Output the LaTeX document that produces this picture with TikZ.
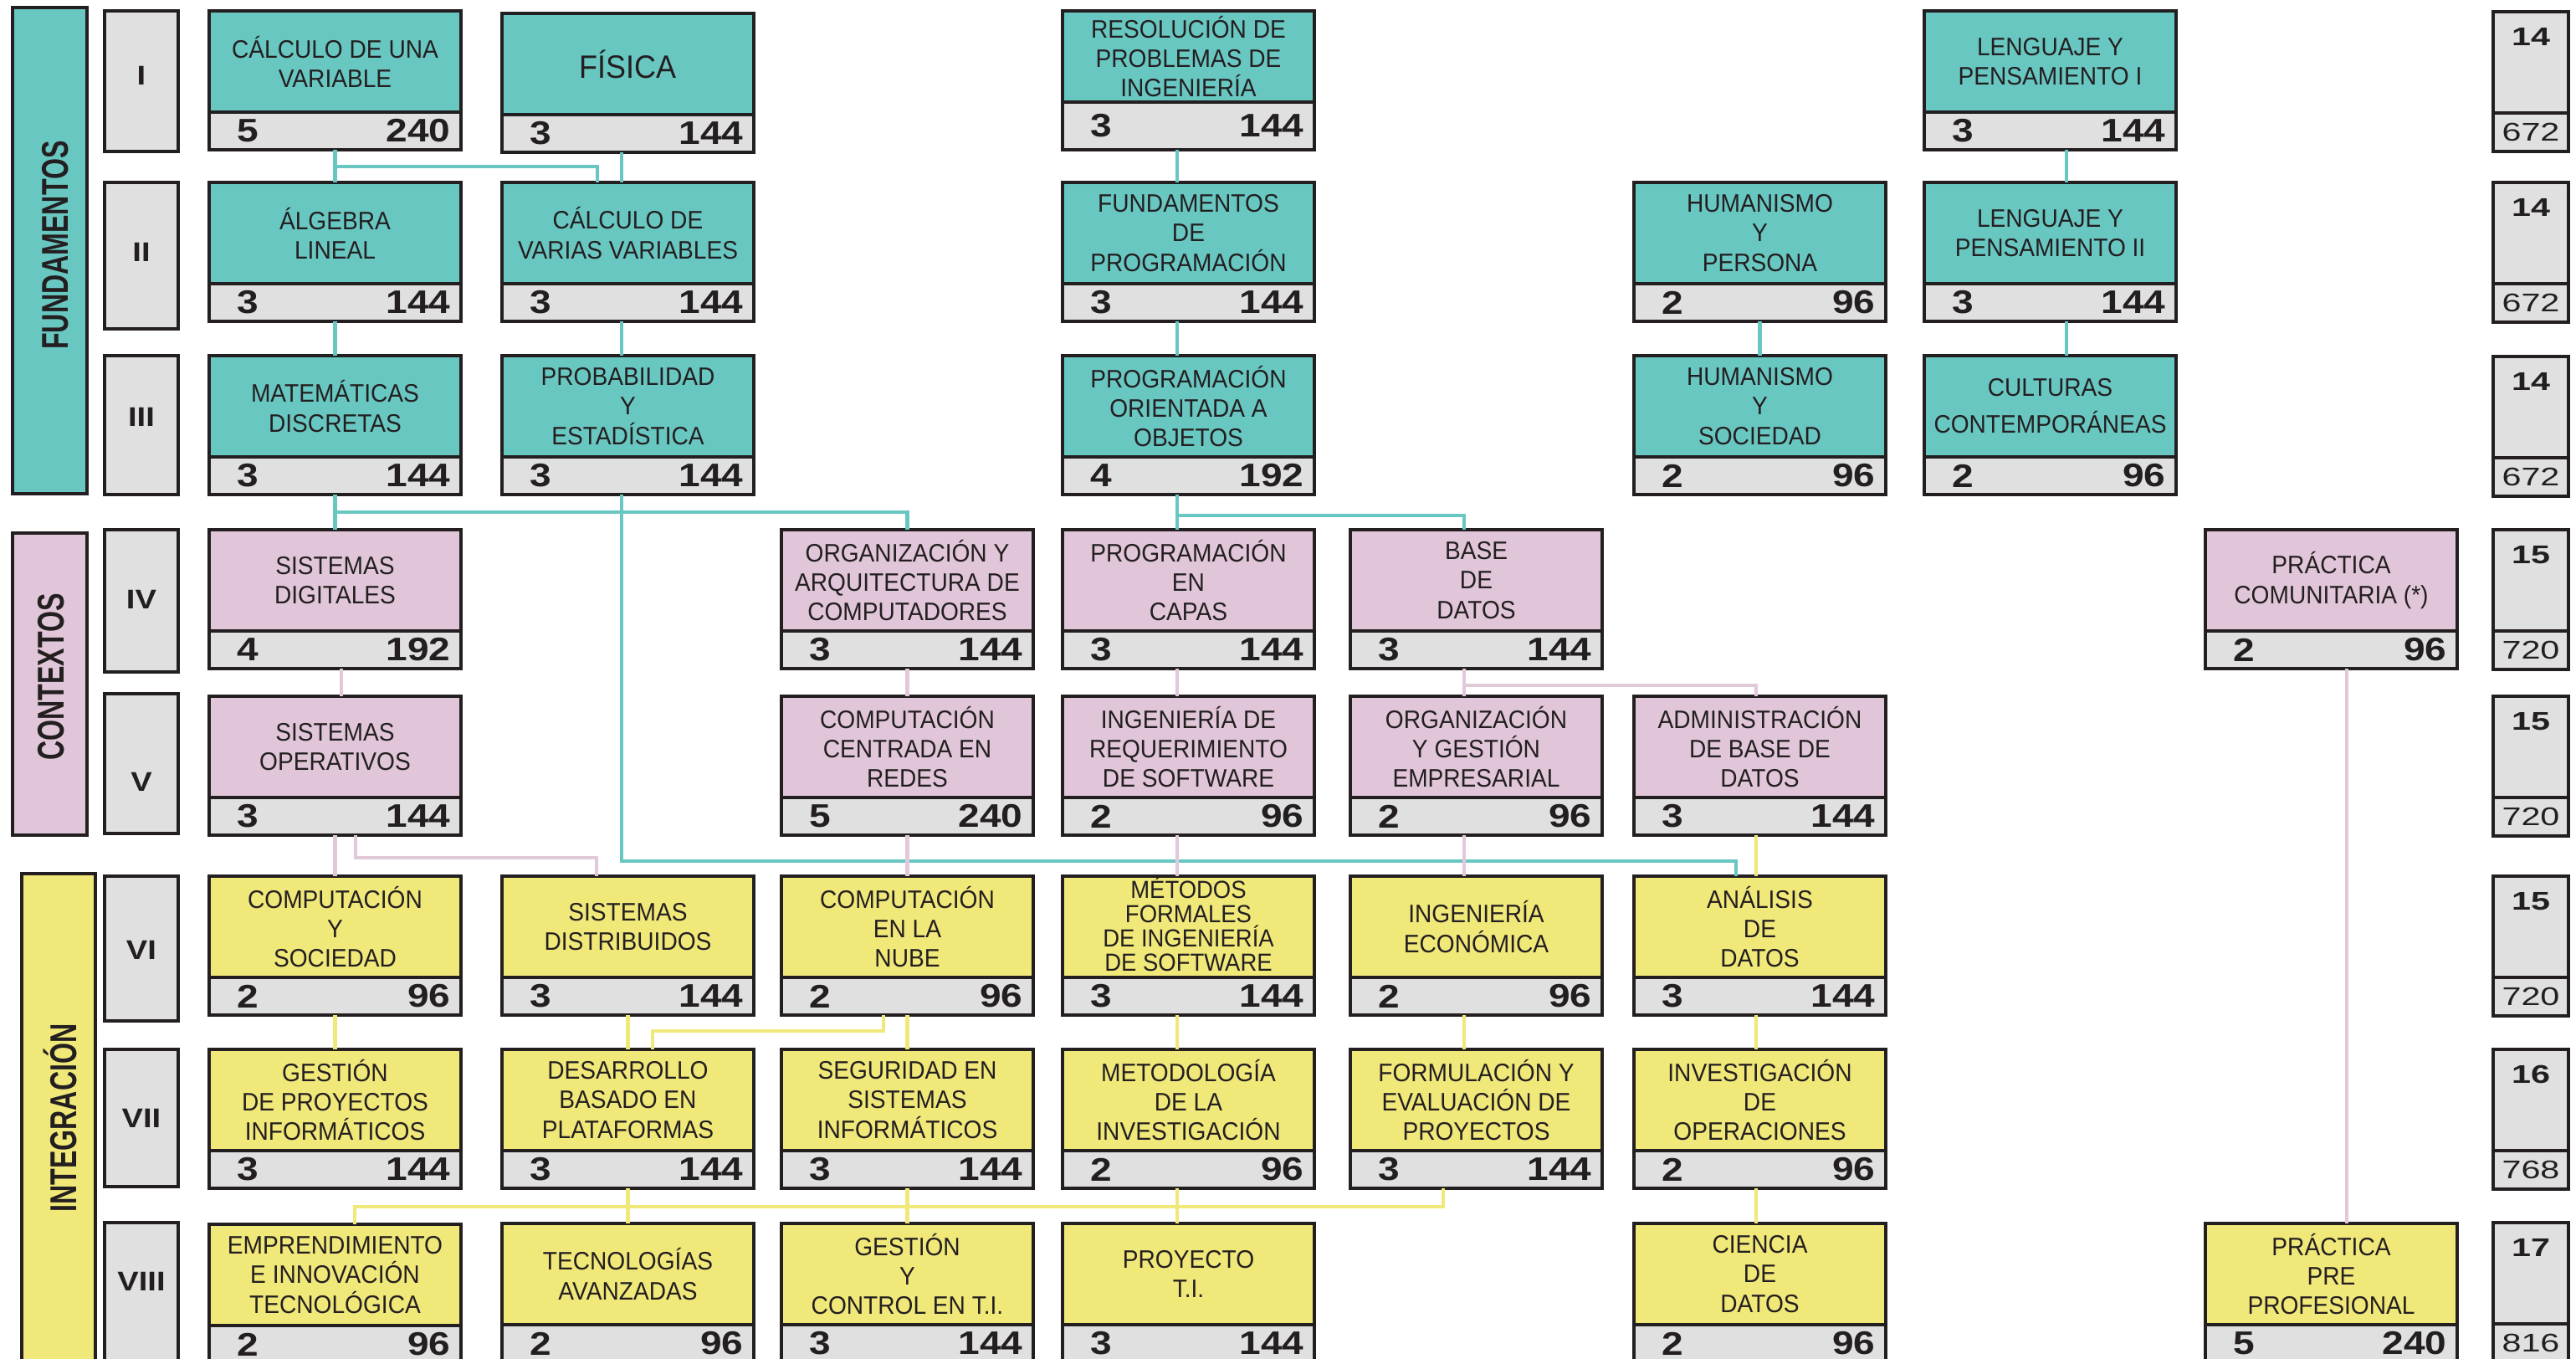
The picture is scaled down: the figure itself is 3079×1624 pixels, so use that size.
\documentclass[tikz,border=0pt]{standalone}
\usepackage{fontspec}
\setmainfont{Liberation Sans}
\newfontfamily\nombrefont{Liberation Sans}[FakeStretch=0.93]
\newfontfamily\cifrafont{Liberation Sans}[FakeStretch=1.18]
\newfontfamily\totalfont{Liberation Sans}[FakeStretch=1.35]
\newfontfamily\areafont{Liberation Sans}[FakeStretch=0.72]

\definecolor{fund}{HTML}{69C7C2}
\definecolor{cont}{HTML}{E0C6D8}
\definecolor{integ}{HTML}{F1E87A}
\definecolor{banda}{HTML}{E0E0E0}
\definecolor{tinta}{HTML}{231F20}
\definecolor{lrosa}{HTML}{E2C9DA}

\tikzset{
  caja/.style={draw=tinta, line width=0.9pt, inner sep=0pt, outer sep=0pt,
    minimum width=30.1mm, minimum height=16.6mm, anchor=north west},
  borde/.style={draw=tinta, line width=0.9pt},
  nombre/.style={align=center, inner sep=0pt, text=tinta,
    font=\nombrefont\fontsize{8.6}{10}\selectfont},
  cifra/.style={inner sep=0pt, text=tinta, font=\cifrafont\bfseries\fontsize{11.1}{12}\selectfont},
  semcaja/.style={draw=tinta, fill=banda, line width=0.9pt, inner sep=0pt, outer sep=0pt,
    minimum width=8.8mm, anchor=north west},
  semnum/.style={text=tinta, inner sep=0pt, font=\cifrafont\bfseries\fontsize{9.2}{10}\selectfont},
  tot/.style={text=tinta, inner sep=0pt, font=\totalfont\fontsize{8.7}{10}\selectfont},
  area/.style={draw=tinta, line width=0.9pt, inner sep=0pt, outer sep=0pt, anchor=north west},
  arealab/.style={rotate=90, text=tinta, inner sep=0pt, font=\areafont\bfseries\fontsize{12.7}{14}\selectfont},
  lfund/.style={draw=fund, line width=1.4pt},
  lcont/.style={draw=lrosa, line width=1.4pt},
  linteg/.style={draw=integ, line width=1.4pt},
}

% #1 band height, #2 name, #3 x, #4 y, #5 colour, #6 text, #7 credits, #8 hours
\newcommand{\curso}[8][4.5]{%
  \node[caja, fill=#5] (#2) at (#3,#4) {};
  \draw[borde, fill=banda] (#2.south west) rectangle ([yshift=#1mm]#2.south east);
  \node[nombre] at ([yshift=-8.3mm+#1mm/2]#2.north) {#6};
  \node[cifra, anchor=west] at ([xshift=3.3mm, yshift=#1mm/2]#2.south west) {#7};
  \node[cifra, anchor=east] at ([xshift=-1.2mm, yshift=#1mm/2]#2.south east) {#8};
}
% name, top, height, numeral, numeral y
\newcommand{\semestre}[5]{%
  \node[semcaja, minimum height=#3mm] (#1) at (125,#2) {};
  \node[semnum] at (169,#5) {#4};
}
% name, top, credits, hours
\newcommand{\totalsem}[4]{%
  \node[semcaja, minimum width=9mm, minimum height=16.7mm] (#1) at (2980,#2) {};
  \draw[borde] ([yshift=4.6mm]#1.south west) -- ([yshift=4.6mm]#1.south east);
  \node[tot, font=\totalfont\bfseries\fontsize{8.7}{10}\selectfont] at ([yshift=-3mm]#1.north) {#3};
  \node[tot] at ([yshift=2.35mm]#1.south) {#4};
}

\begin{document}
\begin{tikzpicture}[x=0.1mm, y=-0.1mm]
   \useasboundingbox (0,0) rectangle (3079,1624);
   \clip (0,0) rectangle (3079,1624);

   % areas
   \node[area, fill=fund, minimum width=8.9mm, minimum height=58.1mm] (afund) at (15,9) {};
   \node[arealab] at (66,293) {FUNDAMENTOS};
   \node[area, fill=cont, minimum width=8.9mm, minimum height=36.1mm] (acont) at (15,637) {};
   \node[arealab] at (61,809) {CONTEXTOS};
   \node[area, fill=integ, minimum width=8.8mm, minimum height=58.4mm] (ainteg) at (26,1044) {};
   \node[arealab] at (72,1336) {INTEGRACIÓN};

   % semestres
   \semestre{s1}{13}{16.8}{I}{90}
   \semestre{s2}{218}{17.5}{II}{301}
   \semestre{s3}{425}{16.6}{III}{498}
   \semestre{s4}{633}{17.0}{IV}{716}
   \semestre{s5}{829}{16.7}{V}{934}
   \semestre{s6}{1047}{17.3}{VI}{1135}
   \semestre{s7}{1254}{16.4}{VII}{1336}
   \semestre{s8}{1461}{17.0}{VIII}{1531}

   % I
   \curso{cuv}{250}{13}{fund}{CÁLCULO DE UNA\\VARIABLE}{5}{240}
   \curso{fis}{600}{16}{fund}{\fontsize{11}{12}\selectfont FÍSICA}{3}{144}
   \curso[5.7]{rpi}{1270}{13}{fund}{RESOLUCIÓN DE\\PROBLEMAS DE\\INGENIERÍA}{3}{144}
   \curso{lp1}{2300}{13}{fund}{LENGUAJE Y\\PENSAMIENTO I}{3}{144}
   % II
   \curso{alg}{250}{218}{fund}{ÁLGEBRA\\LINEAL}{3}{144}
   \curso{cvv}{600}{218}{fund}{CÁLCULO DE\\VARIAS VARIABLES}{3}{144}
   \curso{fpr}{1270}{218}{fund}{FUNDAMENTOS\\DE\\PROGRAMACIÓN}{3}{144}
   \curso{hpe}{1953}{218}{fund}{HUMANISMO\\Y\\PERSONA}{2}{96}
   \curso{lp2}{2300}{218}{fund}{LENGUAJE Y\\PENSAMIENTO II}{3}{144}
   % III
   \curso{mdi}{250}{425}{fund}{MATEMÁTICAS\\DISCRETAS}{3}{144}
   \curso{pye}{600}{425}{fund}{PROBABILIDAD\\Y\\ESTADÍSTICA}{3}{144}
   \curso{poo}{1270}{425}{fund}{PROGRAMACIÓN\\ORIENTADA A\\OBJETOS}{4}{192}
   \curso{hso}{1953}{425}{fund}{HUMANISMO\\Y\\SOCIEDAD}{2}{96}
   \curso{ccon}{2300}{425}{fund}{CULTURAS\\[2.5pt]CONTEMPORÁNEAS}{2}{96}
   % IV
   \curso{sdi}{250}{633}{cont}{SISTEMAS\\DIGITALES}{4}{192}
   \curso{oac}{934}{633}{cont}{ORGANIZACIÓN Y\\ARQUITECTURA DE\\COMPUTADORES}{3}{144}
   \curso{pca}{1270}{633}{cont}{PROGRAMACIÓN\\EN\\CAPAS}{3}{144}
   \curso{bda}{1614}{633}{cont}{BASE\\DE\\DATOS}{3}{144}
   \curso{pco}{2636}{633}{cont}{PRÁCTICA\\COMUNITARIA (*)}{2}{96}
   % V
   \curso{sop}{250}{832}{cont}{SISTEMAS\\OPERATIVOS}{3}{144}
   \curso{ccr}{934}{832}{cont}{COMPUTACIÓN\\CENTRADA EN\\REDES}{5}{240}
   \curso{irs}{1270}{832}{cont}{INGENIERÍA DE\\REQUERIMIENTO\\DE SOFTWARE}{2}{96}
   \curso{oge}{1614}{832}{cont}{ORGANIZACIÓN\\Y GESTIÓN\\EMPRESARIAL}{2}{96}
   \curso{abd}{1953}{832}{cont}{ADMINISTRACIÓN\\DE BASE DE\\DATOS}{3}{144}
   % VI
   \curso{cso}{250}{1047}{integ}{COMPUTACIÓN\\Y\\SOCIEDAD}{2}{96}
   \curso{sdt}{600}{1047}{integ}{SISTEMAS\\DISTRIBUIDOS}{3}{144}
   \curso{cnu}{934}{1047}{integ}{COMPUTACIÓN\\EN LA\\NUBE}{2}{96}
   \curso{mfi}{1270}{1047}{integ}{}{3}{144}
   \node[nombre, font=\nombrefont\fontsize{8.4}{8.3}\selectfont] at ([yshift=-5.75mm]mfi.north)
      {MÉTODOS\\FORMALES\\DE INGENIERÍA\\DE SOFTWARE};
   \curso{iec}{1614}{1047}{integ}{INGENIERÍA\\ECONÓMICA}{2}{96}
   \curso{ada}{1953}{1047}{integ}{ANÁLISIS\\DE\\DATOS}{3}{144}
   % VII
   \curso{gpi}{250}{1254}{integ}{GESTIÓN\\DE PROYECTOS\\INFORMÁTICOS}{3}{144}
   \curso{dbp}{600}{1254}{integ}{DESARROLLO\\BASADO EN\\PLATAFORMAS}{3}{144}
   \curso{ssi}{934}{1254}{integ}{SEGURIDAD EN\\SISTEMAS\\INFORMÁTICOS}{3}{144}
   \curso{mti}{1270}{1254}{integ}{METODOLOGÍA\\DE LA\\INVESTIGACIÓN}{2}{96}
   \curso{fep}{1614}{1254}{integ}{FORMULACIÓN Y\\EVALUACIÓN DE\\PROYECTOS}{3}{144}
   \curso{iop}{1953}{1254}{integ}{INVESTIGACIÓN\\DE\\OPERACIONES}{2}{96}
   % VIII
   \curso{eit}{250}{1463}{integ}{EMPRENDIMIENTO\\E INNOVACIÓN\\TECNOLÓGICA}{2}{96}
   \curso{tav}{600}{1462}{integ}{TECNOLOGÍAS\\AVANZADAS}{2}{96}
   \curso{gct}{934}{1462}{integ}{GESTIÓN\\Y\\CONTROL EN T.I.}{3}{144}
   \curso{pti}{1270}{1462}{integ}{PROYECTO\\T.I.}{3}{144}
   \curso{cda}{1953}{1462}{integ}{CIENCIA\\DE\\DATOS}{2}{96}
   \curso{ppp}{2636}{1462}{integ}{PRÁCTICA\\PRE\\PROFESIONAL}{5}{240}

   % totales
   \totalsem{t1}{14}{14}{672}
   \totalsem{t2}{218}{14}{672}
   \totalsem{t3}{426}{14}{672}
   \totalsem{t4}{633}{15}{720}
   \totalsem{t5}{832}{15}{720}
   \totalsem{t6}{1047}{15}{720}
   \totalsem{t7}{1254}{16}{768}
   \totalsem{t8}{1461}{17}{816}

   % fundamentos
   \draw[lfund] (cuv.south) -- (alg.north);
   \draw[lfund, line width=0.9pt] (cuv.south) ++(0,20) -| ([xshift=-3.65mm]cvv.north);
   \draw[lfund] ([xshift=-0.75mm]fis.south) -- ([xshift=-0.75mm]cvv.north);
   \draw[lfund] (alg.south) -- (mdi.north);
   \draw[lfund] ([xshift=-0.75mm]cvv.south) -- ([xshift=-0.75mm]pye.north);
   \draw[lfund] ([xshift=-1.35mm]rpi.south) -- ([xshift=-1.35mm]fpr.north);
   \draw[lfund] ([xshift=-1.35mm]fpr.south) -- ([xshift=-1.35mm]poo.north);
   \draw[lfund] ([xshift=1.95mm]lp1.south) -- ([xshift=1.95mm]lp2.north);
   \draw[lfund] ([xshift=1.95mm]lp2.south) -- ([xshift=1.95mm]ccon.north);
   \draw[lfund] (hpe.south) -- (hso.north);
   \draw[lfund] (mdi.south) -- (sdi.north);
   \draw[lfund] (mdi.south) ++(0,21) -| (oac.north);
   \draw[lfund] ([xshift=-0.75mm]pye.south) |- ([xshift=-2.85mm,yshift=1.8mm]ada.north) -- ([xshift=-2.85mm]ada.north);
   \draw[lfund] ([xshift=-1.35mm]poo.south) -- ([xshift=-1.35mm]pca.north);
   \draw[lfund] ([xshift=-1.35mm]poo.south) ++(0,25) -| ([xshift=-1.45mm]bda.north);

   % contextos
   \draw[lcont] ([xshift=0.75mm]sdi.south) -- ([xshift=0.75mm]sop.north);
   \draw[lcont] (sop.south) -- (cso.north);
   \draw[lcont] ([xshift=2.45mm]sop.south) |- ([xshift=-3.75mm,yshift=2.2mm]sdt.north) -- ([xshift=-3.75mm]sdt.north);
   \draw[lcont] (oac.south) -- (ccr.north);
   \draw[lcont] (ccr.south) -- (cnu.north);
   \draw[lcont] ([xshift=-1.35mm]pca.south) -- ([xshift=-1.35mm]irs.north);
   \draw[lcont] ([xshift=-1.35mm]irs.south) -- ([xshift=-1.35mm]mfi.north);
   \draw[lcont] ([xshift=-1.45mm]bda.south) -- ([xshift=-1.45mm]oge.north);
   \draw[lcont] ([xshift=-1.45mm]bda.south) ++(0,20) -| ([xshift=-0.45mm]abd.north);
   \draw[lcont] ([xshift=-1.45mm]oge.south) -- ([xshift=-1.45mm]iec.north);
   \draw[lcont] ([xshift=1.85mm]pco.south) -- ([xshift=1.85mm]ppp.north);

   % integracion
   \draw[linteg] ([xshift=-0.45mm]abd.south) -- ([xshift=-0.45mm]ada.north);
   \draw[linteg] (cso.south) -- (gpi.north);
   \draw[linteg] (sdt.south) -- (dbp.north);
   \draw[linteg] ([xshift=-2.85mm]cnu.south) |- ([xshift=2.95mm,yshift=2.2mm]dbp.north) -- ([xshift=2.95mm]dbp.north);
   \draw[linteg] (cnu.south) -- (ssi.north);
   \draw[linteg] ([xshift=-1.35mm]mfi.south) -- ([xshift=-1.35mm]mti.north);
   \draw[linteg] ([xshift=-1.45mm]iec.south) -- ([xshift=-1.45mm]fep.north);
   \draw[linteg] ([xshift=-0.45mm]ada.south) -- ([xshift=-0.45mm]iop.north);
   \draw[linteg] ([xshift=-0.45mm]iop.south) -- ([xshift=-0.45mm]cda.north);
   \draw[linteg] (dbp.south) -- (tav.north);
   \draw[linteg] (ssi.south) -- (gct.north);
   \draw[linteg] ([xshift=-1.35mm]mti.south) -- ([xshift=-1.35mm]pti.north);
   \draw[linteg] ([xshift=-3.95mm]fep.south) |- ([xshift=2.35mm,yshift=2.1mm]eit.north) -- ([xshift=2.35mm]eit.north);

\end{tikzpicture}
\end{document}
